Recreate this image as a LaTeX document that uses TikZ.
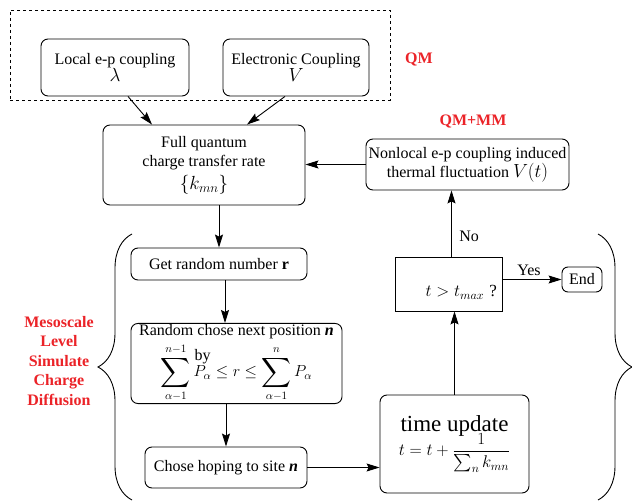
\documentclass[tikz,border=0pt]{standalone}
\usepackage{fix-cm}
\usepackage{amsmath}
\usepackage{graphicx}
\usepackage{fontspec}
\setmainfont{Liberation Serif}
\usetikzlibrary{arrows.meta,decorations.pathreplacing}
\definecolor{qmred}{RGB}{235,35,40}
\newcommand{\mathbig}{\fontsize{19}{22}\selectfont}
\newcommand{\mathmid}{\fontsize{17}{20}\selectfont}
\newcommand{\Psum}{\mathop{\vcenter{\hbox{\scalebox{1.2}{$\displaystyle\sum$}}}}\limits}
\tikzstyle{procbox}=[draw, rounded corners=7pt, align=center, inner sep=1pt]
\tikzstyle{tag}=[text=qmred, font=\fontsize{16}{19.5}\selectfont\bfseries, align=center]
\tikzstyle{arr}=[-{Stealth[length=13pt,width=8pt,inset=2pt]}]
\tikzstyle{curly}=[decorate, decoration={brace, amplitude=34pt}]

\begin{document}
\begin{tikzpicture}[x=1pt, y=-1pt, line width=0.9pt, font=\fontsize{16}{19}\selectfont]
                \useasboundingbox (0,0) rectangle (632,502);
                \node[draw, dashed, minimum width=380, minimum height=90] (qm) at (200,55) {};
                \node[procbox, minimum width=148, minimum height=57] (local) at (115,67.5) {Local e-p coupling\\[-2pt] {\mathbig$\lambda$}};
                \node[procbox, minimum width=146, minimum height=57] (elec) at (296,67.5) {Electronic Coupling\\[-2pt] {\mathbig$V$}};
                \node[tag] (qmtag) at (419,60) {QM};
                \node[procbox, minimum width=202, minimum height=80] (full) at (204,165) {Full quantum\\charge transfer rate\\[4pt] {\mathbig$\{k_{mn}\}$}};
                \node[procbox, minimum width=203, minimum height=51] (nonlocal) at (467.5,164.5) {Nonlocal e-p coupling induced\\thermal fluctuation {\mathbig$V(t)$}};
                \node[tag] (qmmm) at (473,122) {QM+MM};
                \node[procbox, minimum width=176, minimum height=32] (getr) at (219,264) {Get random number \textbf{r}};
                \node[procbox, minimum width=211, minimum height=77] (randc) at (236.5,363.5) {Random chose next position \textbf{\textit{n}}\\[4pt] $\displaystyle\Psum_{\alpha-1}^{n-1}\overset{\hbox{by}}{P_\alpha}\le r\le\Psum_{\alpha-1}^{n}P_\alpha$};
                \node[procbox, minimum width=162, minimum height=41] (hop) at (226,467.5) {Chose hoping to site \textbf{\textit{n}}};
                \node[procbox, minimum width=149, minimum height=98] (tupd) at (454.5,444) {{\fontsize{23}{25}\selectfont time update}\\[-4pt] {\mathmid$t=t+\dfrac{1}{\sum_n k_{mn}}$}};
                \node[draw, minimum width=107, minimum height=54, text width=97pt, align=right] (cond) at (448.5,284) {\raisebox{-13pt}[0pt][0pt]{\mathmid$t>t_{max}$ ?}};
                \node[procbox, rounded corners=6pt, minimum width=40, minimum height=25] (end) at (582,279.5) {End};
                \node[tag] (meso) at (59,361) {Mesoscale\\Level\\Simulate\\Charge\\Diffusion};
                \draw[arr] ([xshift=13pt]local.south) -- ([xshift=-52pt]full.north);
                \draw[arr] ([xshift=-11pt]elec.south) -- ([xshift=43pt]full.north);
                \draw[arr] (nonlocal.west) -- (full.east |- nonlocal.west);
                \draw[arr] (full.south -| getr) -- (getr.north);
                \draw[arr] ([xshift=6pt]getr.south) -- ([xshift=6pt]getr.south |- randc.north);
                \draw[arr] (hop.north |- randc.south) -- (hop.north);
                \draw[arr] (hop.east) -- (tupd.west |- hop.east);
                \draw[arr] (tupd.north) -- (tupd.north |- cond.south);
                \draw[arr] ([xshift=3pt]cond.north) -- node[pos=0.3, right=4pt] {No} ([xshift=3pt]cond.north |- nonlocal.south);
                \draw[arr] (end.west -| cond.east) -- node[above, pos=0.45] {Yes} (end.west);
                \draw[curly] (132,500) -- (132,234);
                \draw[curly] (598,234) -- (598,500);
            \end{tikzpicture}
\end{document}
